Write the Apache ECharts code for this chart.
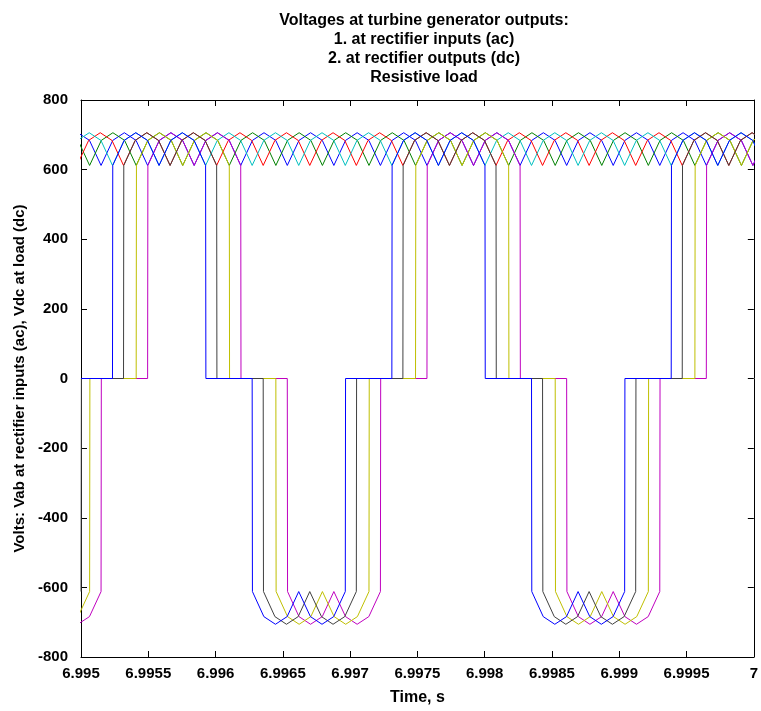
<!DOCTYPE html>
<html>
<head>
<meta charset="utf-8">
<script src="https://cdn.jsdelivr.net/npm/echarts@6/dist/echarts.min.js"></script>
<style>
  html, body { margin: 0; padding: 0; background: #fff; }
  #chart { width: 761px; height: 711px; }
</style>
</head>
<body>
<div id="chart"></div>
<script>
// time in microseconds after 6.995 s, value in volts
const T0 = 6.995;

// dc outputs (rectified ripple)
const dcBlue = [[-197,612],[-110,684],[-24,706],[63,684],[149,612],[236,684],[322,706],[409,684],[495,612],[582,684],[668,706],[755,684],[841,612],[928,684],[1014,706],[1101,684],[1187,612],[1274,684],[1360,706],[1447,684],[1533,612],[1620,684],[1706,706],[1793,684],[1879,612],[1966,684],[2052,706],[2139,684],[2225,612],[2312,684],[2398,706],[2485,684],[2571,612],[2658,684],[2744,706],[2831,684],[2917,612],[3004,684],[3090,706],[3177,684],[3263,612],[3350,684],[3436,706],[3523,684],[3609,612],[3696,684],[3782,706],[3869,684],[3955,612],[4042,684],[4128,706],[4215,684],[4301,612],[4388,684],[4474,706],[4561,684],[4647,612],[4734,684],[4820,706],[4907,684],[4993,612],[5080,684]];
const dcGreen = [[-282,612],[-195,684],[-109,706],[-22,684],[64,612],[151,684],[237,706],[324,684],[410,612],[497,684],[583,706],[670,684],[756,612],[843,684],[929,706],[1016,684],[1102,612],[1189,684],[1275,706],[1362,684],[1448,612],[1535,684],[1621,706],[1708,684],[1794,612],[1881,684],[1967,706],[2054,684],[2140,612],[2227,684],[2313,706],[2400,684],[2486,612],[2573,684],[2659,706],[2746,684],[2832,612],[2919,684],[3005,706],[3092,684],[3178,612],[3265,684],[3351,706],[3438,684],[3524,612],[3611,684],[3697,706],[3784,684],[3870,612],[3957,684],[4043,706],[4130,684],[4216,612],[4303,684],[4389,706],[4476,684],[4562,612],[4649,684],[4735,706],[4822,684],[4908,612],[4995,684],[5081,706]];
const dcRed = [[-117,684],[-30,612],[57,684],[143,706],[230,684],[316,612],[403,684],[489,706],[576,684],[662,612],[749,684],[835,706],[922,684],[1008,612],[1095,684],[1181,706],[1268,684],[1354,612],[1441,684],[1527,706],[1614,684],[1700,612],[1787,684],[1873,706],[1960,684],[2046,612],[2133,684],[2219,706],[2306,684],[2392,612],[2479,684],[2565,706],[2652,684],[2738,612],[2825,684],[2911,706],[2998,684],[3084,612],[3171,684],[3257,706],[3344,684],[3430,612],[3517,684],[3603,706],[3690,684],[3776,612],[3863,684],[3949,706],[4036,684],[4122,612],[4209,684],[4295,706],[4382,684],[4468,612],[4555,684],[4641,706],[4728,684],[4814,612],[4901,684],[4987,706],[5074,684]];
const dcCyan = [[-112,612],[-25,684],[61,706],[148,684],[234,612],[321,684],[407,706],[494,684],[580,612],[667,684],[753,706],[840,684],[926,612],[1013,684],[1099,706],[1186,684],[1272,612],[1359,684],[1445,706],[1532,684],[1618,612],[1705,684],[1791,706],[1878,684],[1964,612],[2051,684],[2137,706],[2224,684],[2310,612],[2397,684],[2483,706],[2570,684],[2656,612],[2743,684],[2829,706],[2916,684],[3002,612],[3089,684],[3175,706],[3262,684],[3348,612],[3435,684],[3521,706],[3608,684],[3694,612],[3781,684],[3867,706],[3954,684],[4040,612],[4127,684],[4213,706],[4300,684],[4386,612],[4473,684],[4559,706],[4646,684],[4732,612],[4819,684],[4905,706],[4992,684],[5078,612]];

// ac line voltages at rectifier inputs
const acMagenta = [[-24,-706],[63,-684],[149,-612],[151,0],[495,0],[497,612],[582,684],[668,706],[755,684],[841,612],[928,684],[1014,706],[1101,684],[1187,612],[1189,0],[1533,0],[1535,-612],[1620,-684],[1706,-706],[1793,-684],[1879,-612],[1966,-684],[2052,-706],[2139,-684],[2225,-612],[2227,0],[2571,0],[2573,612],[2658,684],[2744,706],[2831,684],[2917,612],[3004,684],[3090,706],[3177,684],[3263,612],[3265,0],[3609,0],[3611,-612],[3696,-684],[3782,-706],[3869,-684],[3955,-612],[4042,-684],[4128,-706],[4215,-684],[4301,-612],[4303,0],[4647,0],[4649,612],[4734,684],[4820,706],[4907,684],[4993,612],[5080,684]];
const acYellow = [[-22,-684],[64,-612],[66,0],[410,0],[412,612],[497,684],[583,706],[670,684],[756,612],[843,684],[929,706],[1016,684],[1102,612],[1104,0],[1448,0],[1450,-612],[1535,-684],[1621,-706],[1708,-684],[1794,-612],[1881,-684],[1967,-706],[2054,-684],[2140,-612],[2142,0],[2486,0],[2488,612],[2573,684],[2659,706],[2746,684],[2832,612],[2919,684],[3005,706],[3092,684],[3178,612],[3180,0],[3524,0],[3526,-612],[3611,-684],[3697,-706],[3784,-684],[3870,-612],[3957,-684],[4043,-706],[4130,-684],[4216,-612],[4218,0],[4562,0],[4564,612],[4649,684],[4735,706],[4822,684],[4908,612],[4995,684],[5081,706]];
const acBlack = [[0,-612],[3,0],[316,0],[318,612],[403,684],[489,706],[576,684],[662,612],[749,684],[835,706],[922,684],[1008,612],[1010,0],[1354,0],[1356,-612],[1441,-684],[1527,-706],[1614,-684],[1700,-612],[1787,-684],[1873,-706],[1960,-684],[2046,-612],[2048,0],[2392,0],[2394,612],[2479,684],[2565,706],[2652,684],[2738,612],[2825,684],[2911,706],[2998,684],[3084,612],[3086,0],[3430,0],[3432,-612],[3517,-684],[3603,-706],[3690,-684],[3776,-612],[3863,-684],[3949,-706],[4036,-684],[4122,-612],[4124,0],[4468,0],[4470,612],[4555,684],[4641,706],[4728,684],[4814,612],[4901,684],[4987,706],[5074,684]];
const acBlue = [[0,0],[234,0],[236,612],[321,684],[407,706],[494,684],[580,612],[667,684],[753,706],[840,684],[926,612],[928,0],[1272,0],[1274,-612],[1359,-684],[1445,-706],[1532,-684],[1618,-612],[1705,-684],[1791,-706],[1878,-684],[1964,-612],[1966,0],[2310,0],[2312,612],[2397,684],[2483,706],[2570,684],[2656,612],[2743,684],[2829,706],[2916,684],[3002,612],[3004,0],[3348,0],[3350,-612],[3435,-684],[3521,-706],[3608,-684],[3694,-612],[3781,-684],[3867,-706],[3954,-684],[4040,-612],[4042,0],[4386,0],[4388,612],[4473,684],[4559,706],[4646,684],[4732,612],[4819,684],[4905,706],[4992,684],[5078,612]];

const titleLines = [
  'Voltages at turbine generator outputs:',
  '1. at rectifier inputs (ac)',
  '2. at rectifier outputs (dc)',
  'Resistive load'
];

const FONT = 'Liberation Sans, Arial, sans-serif';

const toXY = pts => pts.map(p => [T0 + p[0] / 1e6, p[1]]);

const traces = [
  { data: dcBlue, color: '#0000ff' },
  { data: dcGreen, color: '#008000' },
  { data: dcRed, color: '#ff0000' },
  { data: dcCyan, color: '#00bfbf' },
  { data: acMagenta, color: '#bf00bf' },
  { data: acYellow, color: '#bfbf00' },
  { data: acBlack, color: '#404040' },
  { data: acBlue, color: '#0000ff' }
];

const chart = echarts.init(document.getElementById('chart'));

const xBase = {
  type: 'value',
  min: 6.995,
  max: 7,
  interval: 0.0005,
  splitLine: { show: false },
  axisLine: { show: true, onZero: false, lineStyle: { color: '#000', width: 1 } },
  axisTick: { show: true, inside: true, length: 6, lineStyle: { color: '#000' } }
};
const yBase = {
  type: 'value',
  min: -800,
  max: 800,
  interval: 200,
  splitLine: { show: false },
  axisLine: { show: true, onZero: false, lineStyle: { color: '#000', width: 1 } },
  axisTick: { show: true, inside: true, length: 6, lineStyle: { color: '#000' } }
};

chart.setOption({
  animation: false,
  backgroundColor: '#fff',
  title: {
    text: titleLines.join('\n'),
    left: 419,
    top: 6,
    textAlign: 'center',
    textStyle: { fontFamily: FONT, fontSize: 16, fontWeight: 'bold', color: '#000', lineHeight: 19 }
  },
  grid: { left: 81, right: 4, top: 100, bottom: 47 },
  xAxis: [
    Object.assign({}, xBase, {
      position: 'bottom',
      name: 'Time, s',
      nameLocation: 'middle',
      nameGap: 33,
      nameTextStyle: { fontFamily: FONT, fontSize: 16, fontWeight: 'bold', color: '#000' },
      axisLabel: {
        fontFamily: FONT, fontSize: 15, fontWeight: 'bold', color: '#000', margin: 9,
        formatter: v => String(parseFloat(v.toFixed(4)))
      }
    }),
    Object.assign({}, xBase, { position: 'top', axisLabel: { show: false } })
  ],
  yAxis: [
    Object.assign({}, yBase, {
      position: 'left',
      name: 'Volts: Vab at rectifier inputs (ac), Vdc at load (dc)',
      nameLocation: 'middle',
      nameRotate: 90,
      nameGap: 53,
      nameTextStyle: { fontFamily: FONT, fontSize: 15, fontWeight: 'bold', color: '#000' },
      axisLabel: { fontFamily: FONT, fontSize: 15, fontWeight: 'bold', color: '#000', margin: 13 }
    }),
    Object.assign({}, yBase, { position: 'right', axisLabel: { show: false } })
  ],
  series: traces.map(tr => ({
    type: 'line',
    xAxisIndex: 0,
    yAxisIndex: 0,
    data: toXY(tr.data),
    showSymbol: false,
    symbol: 'none',
    clip: true,
    lineStyle: { color: tr.color, width: 1 },
    emphasis: { disabled: true }
  }))
});
</script>
</body>
</html>
